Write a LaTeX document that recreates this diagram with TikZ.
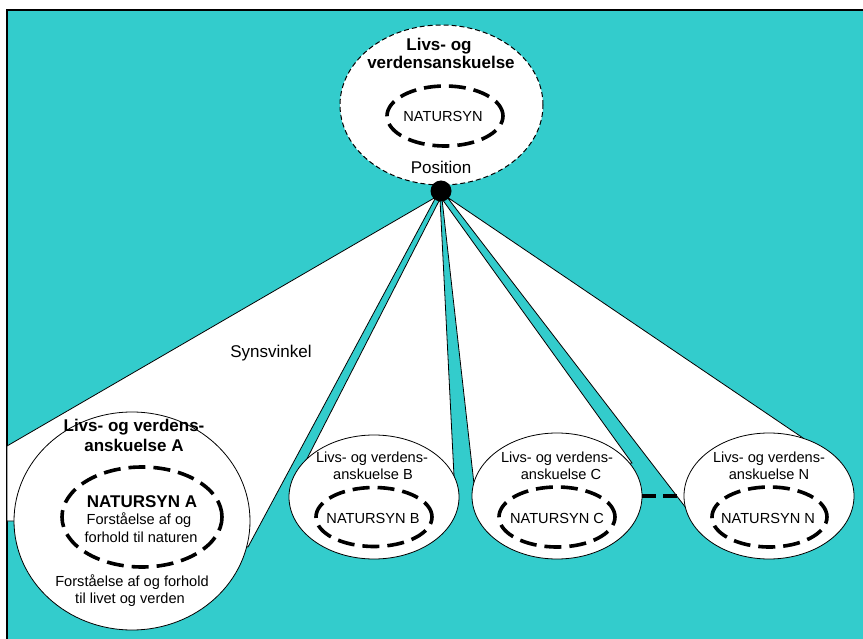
\documentclass[tikz,border=0pt]{standalone}
\usepackage{fontspec}
\setmainfont{Liberation Sans}
\usetikzlibrary{shapes.geometric}
\definecolor{tealbg}{HTML}{33CCCC}
\begin{document}
\begin{tikzpicture}[x=1pt,y=-1pt,
  conebox/.style={fill=white,draw=black,line width=0.8pt,line join=miter},
  world/.style={ellipse,draw=black,fill=white,line width=0.8pt,inner sep=0pt},
  natur/.style={ellipse,draw=black,line width=3.6pt,dash pattern=on 17pt off 8pt,inner sep=0pt},
  boldtxt/.style={font=\fontsize{17}{20}\selectfont\bfseries,anchor=base,inner sep=0pt},
  smtxt/.style={font=\fontsize{14.6}{17}\selectfont,anchor=base,inner sep=0pt},
  midtxt/.style={font=\fontsize{17}{20}\selectfont,anchor=base,inner sep=0pt}]
\useasboundingbox (0,0) rectangle (863,639);
\clip (0,0) rectangle (863,639);
\fill[white] (0,0) rectangle (863,639);
\draw[fill=tealbg,line width=1.6pt] (7,10) rectangle (880,660);

% cones (view angles)
\filldraw[conebox] (436,197) -- (7,446) -- (7,521) -- (132,521) -- (248,547) -- cycle;
\filldraw[conebox] (440,199) -- (292,488) -- (454,476) -- cycle;
\filldraw[conebox] (442,199) -- (474,484) -- (632,463) -- cycle;
\filldraw[conebox] (447,197) -- (686,508) -- (803,438) -- cycle;

% world views
\node[world,minimum width=236pt,minimum height=218pt] (wa) at (132,521) {};
\node[world,minimum width=170pt,minimum height=124pt] (wb) at (374,497) {};
\node[world,minimum width=170pt,minimum height=126pt] (wc) at (557,496) {};
\node[world,minimum width=170pt,minimum height=126pt] (wn) at (769,496) {};
\draw[line width=3.6pt,dash pattern=on 14pt off 7pt] (wc.east) -- (wn.west);

% top world view
\node[ellipse,draw=black,fill=white,line width=1pt,dash pattern=on 5pt off 3pt,inner sep=0pt,
      minimum width=203pt,minimum height=160pt] (top) at (441.5,105) {};
\node[circle,fill=black,inner sep=0pt,minimum size=21pt] (pos) at (441,191) {};

% inner nature views
\node[natur,minimum width=116pt,minimum height=60pt] (ntop) at (445,116) {};
\node[natur,minimum width=160pt,minimum height=100pt] (na) at (142,517) {};
\node[natur,minimum width=116pt,minimum height=59pt] (nb) at (374,517) {};
\node[natur,minimum width=116pt,minimum height=60pt] (nc) at (557,517) {};
\node[natur,minimum width=115pt,minimum height=60pt] (nn) at (769.5,517) {};

% texts
\node[boldtxt] (t1) at (439,51) {Livs- og};
\node[boldtxt] (t2) at (441,69) {verdensanskuelse};
\node[smtxt] (t3) at (443,122) {NATURSYN};
\node[midtxt] (t4) at (441,174) {Position};
\node[midtxt] (t5) at (271,357) {Synsvinkel};

\node[boldtxt] (a1) at (134,431) {Livs- og verdens-};
\node[boldtxt] (a2) at (134,451) {anskuelse A};
\node[boldtxt] (a3) at (142,507) {NATURSYN A};
\node[smtxt] (a4) at (139,524) {Forståelse af og};
\node[smtxt] (a5) at (141,542) {forhold til naturen};
\node[smtxt] (a6) at (132,586) {Forståelse af og forhold};
\node[smtxt] (a7) at (130,603) {til livet og verden};

\node[smtxt] (b1) at (372,462) {Livs- og verdens-};
\node[smtxt] (b2) at (373,479) {anskuelse B};
\node[smtxt] (b3) at (373,523) {NATURSYN B};

\node[smtxt] (c1) at (557,462) {Livs- og verdens-};
\node[smtxt] (c2) at (561,479) {anskuelse C};
\node[smtxt] (c3) at (557,523) {NATURSYN C};

\node[smtxt] (n1) at (769,462) {Livs- og verdens-};
\node[smtxt] (n2) at (769,479) {anskuelse N};
\node[smtxt] (n3) at (768,523) {NATURSYN N};
\end{tikzpicture}
\end{document}
